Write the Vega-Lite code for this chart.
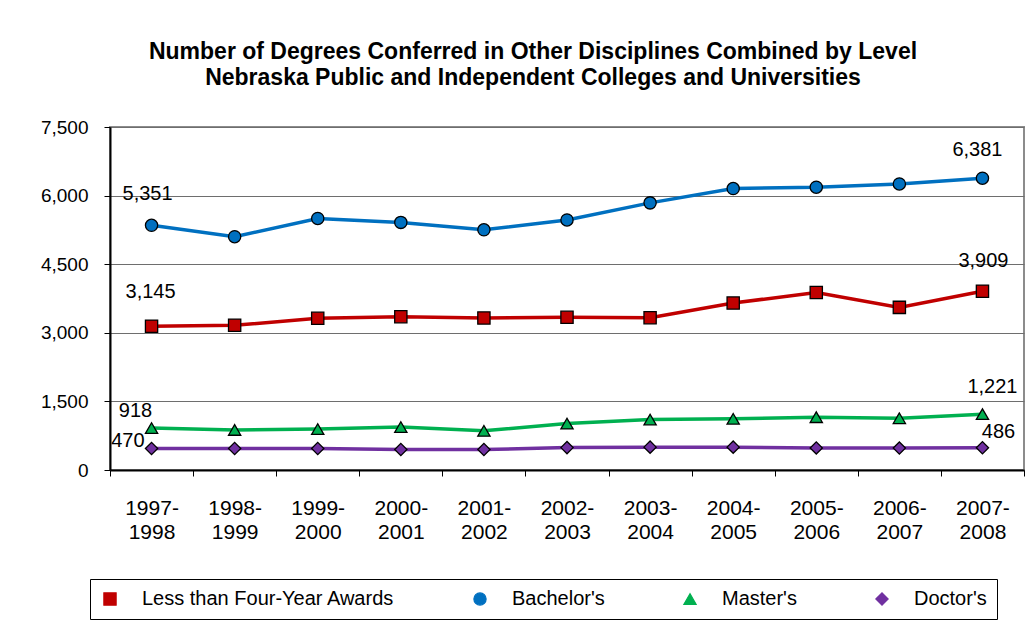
{
  "$schema": "https://vega.github.io/schema/vega-lite/v6.json",
  "width": 914,
  "height": 343,
  "autosize": {"type": "none"},
  "padding": {"left": 110, "top": 127, "right": 9, "bottom": 164},
  "background": "white",
  "title": {
    "text": ["Number of Degrees Conferred in Other Disciplines Combined by Level", "Nebraska Public and Independent Colleges and Universities"],
    "font": "Liberation Sans",
    "fontSize": 23,
    "fontWeight": "bold",
    "color": "#000000",
    "lineHeight": 26.5,
    "anchor": "middle",
    "baseline": "bottom",
    "dx": -34,
    "offset": 5
  },
  "config": {
    "view": {"stroke": "#8c8c8c", "strokeWidth": 2},
    "font": "Liberation Sans"
  },
  "data": {
    "values": [
      {"year": "1997-1998", "series": "Less than Four-Year Awards", "value": 3145},
      {"year": "1998-1999", "series": "Less than Four-Year Awards", "value": 3164},
      {"year": "1999-2000", "series": "Less than Four-Year Awards", "value": 3316},
      {"year": "2000-2001", "series": "Less than Four-Year Awards", "value": 3353},
      {"year": "2001-2002", "series": "Less than Four-Year Awards", "value": 3324},
      {"year": "2002-2003", "series": "Less than Four-Year Awards", "value": 3338},
      {"year": "2003-2004", "series": "Less than Four-Year Awards", "value": 3331},
      {"year": "2004-2005", "series": "Less than Four-Year Awards", "value": 3650},
      {"year": "2005-2006", "series": "Less than Four-Year Awards", "value": 3882},
      {"year": "2006-2007", "series": "Less than Four-Year Awards", "value": 3556},
      {"year": "2007-2008", "series": "Less than Four-Year Awards", "value": 3909},
      {"year": "1997-1998", "series": "Bachelor's", "value": 5351},
      {"year": "1998-1999", "series": "Bachelor's", "value": 5101},
      {"year": "1999-2000", "series": "Bachelor's", "value": 5501},
      {"year": "2000-2001", "series": "Bachelor's", "value": 5414},
      {"year": "2001-2002", "series": "Bachelor's", "value": 5253},
      {"year": "2002-2003", "series": "Bachelor's", "value": 5468},
      {"year": "2003-2004", "series": "Bachelor's", "value": 5841},
      {"year": "2004-2005", "series": "Bachelor's", "value": 6154},
      {"year": "2005-2006", "series": "Bachelor's", "value": 6183},
      {"year": "2006-2007", "series": "Bachelor's", "value": 6255},
      {"year": "2007-2008", "series": "Bachelor's", "value": 6381},
      {"year": "1997-1998", "series": "Master's", "value": 918},
      {"year": "1998-1999", "series": "Master's", "value": 876},
      {"year": "1999-2000", "series": "Master's", "value": 895},
      {"year": "2000-2001", "series": "Master's", "value": 940},
      {"year": "2001-2002", "series": "Master's", "value": 856},
      {"year": "2002-2003", "series": "Master's", "value": 1015},
      {"year": "2003-2004", "series": "Master's", "value": 1104},
      {"year": "2004-2005", "series": "Master's", "value": 1120},
      {"year": "2005-2006", "series": "Master's", "value": 1155},
      {"year": "2006-2007", "series": "Master's", "value": 1132},
      {"year": "2007-2008", "series": "Master's", "value": 1221},
      {"year": "1997-1998", "series": "Doctor's", "value": 470},
      {"year": "1998-1999", "series": "Doctor's", "value": 470},
      {"year": "1999-2000", "series": "Doctor's", "value": 470},
      {"year": "2000-2001", "series": "Doctor's", "value": 448},
      {"year": "2001-2002", "series": "Doctor's", "value": 448},
      {"year": "2002-2003", "series": "Doctor's", "value": 490},
      {"year": "2003-2004", "series": "Doctor's", "value": 500},
      {"year": "2004-2005", "series": "Doctor's", "value": 500},
      {"year": "2005-2006", "series": "Doctor's", "value": 482},
      {"year": "2006-2007", "series": "Doctor's", "value": 480},
      {"year": "2007-2008", "series": "Doctor's", "value": 486}
    ]
  },
  "encoding": {
    "x": {
      "field": "year",
      "type": "ordinal",
      "scale": {"type": "band", "paddingInner": 0, "paddingOuter": 0},
      "axis": {
        "title": null,
        "tickBand": "extent",
        "labelAngle": 0,
        "labelExpr": "[slice(datum.label, 0, 5), slice(datum.label, 5)]",
        "labelFont": "Liberation Sans",
        "labelFontSize": 21,
        "labelLineHeight": 24,
        "labelPadding": 21,
        "labelColor": "#000000",
        "tickSize": 6,
        "tickColor": "#000000",
        "domainColor": "#000000",
        "domainWidth": 2,
        "grid": false
      }
    },
    "y": {
      "field": "value",
      "type": "quantitative",
      "scale": {"domain": [0, 7500], "nice": false},
      "axis": {
        "title": null,
        "values": [0, 1500, 3000, 4500, 6000, 7500],
        "format": ",.0f",
        "labelFont": "Liberation Sans",
        "labelFontSize": 19,
        "labelColor": "#000000",
        "labelPadding": 16,
        "tickSize": 6,
        "tickColor": "#000000",
        "domainColor": "#000000",
        "domainWidth": 2,
        "grid": true,
        "gridColor": "#6e6e6e",
        "gridWidth": 1
      }
    }
  },
  "layer": [
    {
      "mark": {"type": "line", "strokeWidth": 3.5},
      "encoding": {
        "color": {
          "field": "series",
          "type": "nominal",
          "scale": {
            "domain": ["Less than Four-Year Awards", "Bachelor's", "Master's", "Doctor's"],
            "range": ["#C00000", "#0070C0", "#00B050", "#7030A0"]
          },
          "legend": {
            "title": null,
            "orient": "none",
            "legendX": -20,
            "legendY": 452,
            "direction": "horizontal",
            "strokeColor": "#000000",
            "fillColor": "#ffffff",
            "padding": 10,
            "labelFont": "Liberation Sans",
            "labelFontSize": 20,
            "labelColor": "#000000",
            "labelLimit": 400,
            "labelOffset": 22,
            "columnPadding": 75,
            "symbolSize": 150,
            "symbolStrokeColor": "#000000",
            "symbolStrokeWidth": 1.2
          }
        }
      }
    },
    {
      "mark": {"type": "point", "filled": true, "size": 150, "stroke": "#000000", "strokeWidth": 1.3, "opacity": 1},
      "encoding": {
        "color": {"field": "series", "type": "nominal", "legend": null},
        "shape": {
          "field": "series",
          "type": "nominal",
          "scale": {
            "domain": ["Less than Four-Year Awards", "Bachelor's", "Master's", "Doctor's"],
            "range": ["square", "circle", "triangle-up", "diamond"]
          },
          "legend": null
        }
      }
    },
    {
      "transform": [{"filter": "datum.year === '1997-1998' && datum.series === \"Bachelor's\""}],
      "mark": {"type": "text", "font": "Liberation Sans", "fontSize": 20, "color": "#000000", "baseline": "alphabetic", "dx": -4, "dy": -25},
      "encoding": {"text": {"field": "value", "type": "quantitative", "format": ","}}
    },
    {
      "transform": [{"filter": "datum.year === '1997-1998' && datum.series === 'Less than Four-Year Awards'"}],
      "mark": {"type": "text", "font": "Liberation Sans", "fontSize": 20, "color": "#000000", "baseline": "alphabetic", "dx": -1, "dy": -28},
      "encoding": {"text": {"field": "value", "type": "quantitative", "format": ","}}
    },
    {
      "transform": [{"filter": "datum.year === '1997-1998' && datum.series === \"Master's\""}],
      "mark": {"type": "text", "font": "Liberation Sans", "fontSize": 20, "color": "#000000", "baseline": "alphabetic", "dx": -16, "dy": -11},
      "encoding": {"text": {"field": "value", "type": "quantitative", "format": ","}}
    },
    {
      "transform": [{"filter": "datum.year === '1997-1998' && datum.series === \"Doctor's\""}],
      "mark": {"type": "text", "font": "Liberation Sans", "fontSize": 20, "color": "#000000", "baseline": "alphabetic", "align": "right", "dx": -7, "dy": -2},
      "encoding": {"text": {"field": "value", "type": "quantitative", "format": ","}}
    },
    {
      "transform": [{"filter": "datum.year === '2007-2008' && datum.series === \"Bachelor's\""}],
      "mark": {"type": "text", "font": "Liberation Sans", "fontSize": 20, "color": "#000000", "baseline": "alphabetic", "dx": -5, "dy": -22},
      "encoding": {"text": {"field": "value", "type": "quantitative", "format": ","}}
    },
    {
      "transform": [{"filter": "datum.year === '2007-2008' && datum.series === 'Less than Four-Year Awards'"}],
      "mark": {"type": "text", "font": "Liberation Sans", "fontSize": 20, "color": "#000000", "baseline": "alphabetic", "dx": 1, "dy": -24},
      "encoding": {"text": {"field": "value", "type": "quantitative", "format": ","}}
    },
    {
      "transform": [{"filter": "datum.year === '2007-2008' && datum.series === \"Master's\""}],
      "mark": {"type": "text", "font": "Liberation Sans", "fontSize": 20, "color": "#000000", "baseline": "alphabetic", "dx": 10, "dy": -21},
      "encoding": {"text": {"field": "value", "type": "quantitative", "format": ","}}
    },
    {
      "transform": [{"filter": "datum.year === '2007-2008' && datum.series === \"Doctor's\""}],
      "mark": {"type": "text", "font": "Liberation Sans", "fontSize": 20, "color": "#000000", "baseline": "alphabetic", "dx": 16, "dy": -10},
      "encoding": {"text": {"field": "value", "type": "quantitative", "format": ","}}
    }
  ]
}
